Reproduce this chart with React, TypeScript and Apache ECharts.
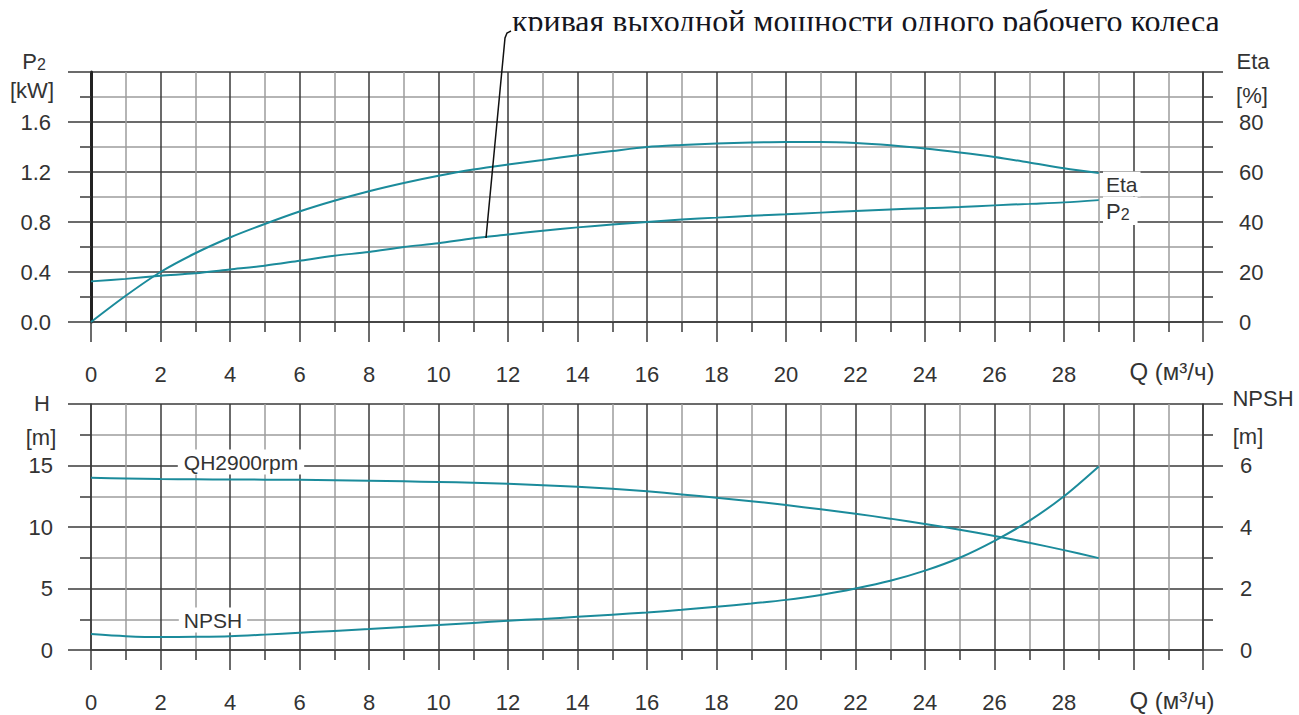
import React, { useEffect, useRef } from "react";
import * as echarts from "echarts";

// ---- data ----
const flowQ = [0, 1, 2, 3, 4, 5, 6, 7, 8, 9, 10, 11, 12, 13, 14, 15, 16, 17, 18, 19, 20, 21, 22, 23, 24, 25, 26, 27, 28, 29];
const etaPct = [0, 10.5, 20, 27.5, 33.8, 39.2, 44.2, 48.5, 52.3, 55.6, 58.5, 61, 63, 64.8, 66.7, 68.4, 70, 70.8, 71.4, 71.8, 72, 72, 71.6, 70.7, 69.4, 67.8, 66, 63.8, 61.5, 59.6];
const powerKw = [0.325, 0.345, 0.37, 0.39, 0.42, 0.45, 0.49, 0.53, 0.56, 0.6, 0.63, 0.67, 0.7, 0.73, 0.757, 0.78, 0.8, 0.82, 0.835, 0.85, 0.862, 0.875, 0.888, 0.9, 0.91, 0.92, 0.933, 0.945, 0.957, 0.975];
const headM = [14, 13.95, 13.9, 13.88, 13.86, 13.85, 13.84, 13.8, 13.76, 13.71, 13.66, 13.6, 13.52, 13.4, 13.27, 13.1, 12.9, 12.65, 12.38, 12.1, 11.78, 11.44, 11.08, 10.68, 10.24, 9.78, 9.27, 8.72, 8.12, 7.47];
const npshM = [0.52, 0.45, 0.42, 0.43, 0.45, 0.5, 0.56, 0.62, 0.68, 0.75, 0.81, 0.88, 0.95, 1.01, 1.08, 1.15, 1.22, 1.31, 1.41, 1.51, 1.63, 1.79, 2.0, 2.25, 2.58, 3.0, 3.55, 4.2, 5.0, 5.97];
const lastQLabel = 28;
const annotationText = "кривая выходной мощности одного рабочего колеса";
const qAxisTitle = "Q (м³/ч)";

const TEAL = "#1b8b9b";
const DARK = "#3a3a3a";
const GRAY = "#9c9c9c";
const TXT = "#333";
const FONT = "'Liberation Sans', Arial, Helvetica, sans-serif";

function xAxisCfg(gridIndex: number) {
  return {
    type: "value",
    gridIndex,
    min: 0,
    max: 32,
    interval: 2,
    axisLine: { show: true, onZero: false, lineStyle: { color: DARK, width: 1.5 } },
    axisTick: { show: true, length: 20, lineStyle: { color: DARK, width: 1.5 } },
    minorTick: { show: true, splitNumber: 2, length: 10, lineStyle: { color: DARK, width: 1.5 } },
    splitLine: { show: true, lineStyle: { color: DARK, width: 1.5 } },
    minorSplitLine: { show: true, lineStyle: { color: GRAY, width: 1.5 } },
    axisLabel: {
      margin: 41,
      fontSize: 22,
      color: TXT,
      fontFamily: FONT,
      formatter: (v: number) => (v <= lastQLabel ? String(v) : ""),
    },
  };
}

function yAxisCfg(
  gridIndex: number,
  position: string,
  max: number,
  interval: number,
  margin: number,
  fmt: (v: number) => string,
  split: boolean,
  lineWidth: number
) {
  return {
    type: "value",
    gridIndex,
    position,
    min: 0,
    max,
    interval,
    axisLine: { show: true, lineStyle: { color: lineWidth > 2 ? "#222" : DARK, width: lineWidth } },
    axisTick: { show: true, length: position === "left" ? 23 : 20, lineStyle: { color: DARK, width: 1.5 } },
    minorTick: { show: true, splitNumber: 2, length: position === "left" ? 11 : 10, lineStyle: { color: DARK, width: 1.5 } },
    splitLine: { show: split, lineStyle: { color: DARK, width: 1.5 } },
    minorSplitLine: { show: split, lineStyle: { color: GRAY, width: 1.5 } },
    axisLabel: {
      margin,
      fontSize: 22,
      color: TXT,
      fontFamily: FONT,
      formatter: (v: number) => (v >= max - 1e-9 ? "" : fmt(v)),
    },
  };
}

function txt(text: string, x: number, y: number, align = "center", extra: any = {}) {
  return {
    type: "text",
    z: 100,
    style: {
      text,
      x,
      y,
      font: `22px ${FONT}`,
      fill: TXT,
      align,
      textAlign: align,
      verticalAlign: "middle",
      textVerticalAlign: "middle",
      ...extra,
    },
  };
}

function sub(main: string, s: string, x: number, y: number, align = "center", extra: any = {}) {
  return {
    type: "text",
    z: 100,
    style: {
      text: `{a|${main}}{b|${s}}`,
      x,
      y,
      fill: TXT,
      align,
      textAlign: align,
      verticalAlign: "middle",
      textVerticalAlign: "middle",
      rich: {
        a: { fontSize: 22, fontFamily: FONT, fill: TXT, color: TXT },
        b: { fontSize: 16, fontFamily: FONT, fill: TXT, color: TXT, verticalAlign: "bottom" },
      },
      ...extra,
    },
  };
}

const pairs = (ys: number[]) => flowQ.map((q, i) => [q, ys[i]]);

export default function App() {
  const ref = useRef<HTMLDivElement>(null);
  useEffect(() => {
    if (!ref.current) return;
    const chart = echarts.init(ref.current, undefined, { renderer: "svg" });
    const lineStyle = { color: TEAL, width: 2 };
    const common = { type: "line", smooth: 0.3, symbol: "none", lineStyle, z: 5 };
    chart.setOption({
      animation: false,
      backgroundColor: "#fff",
      grid: [
        { left: 91, top: 72, width: 1112, height: 250 },
        { left: 91, top: 404, width: 1112, height: 246 },
      ],
      xAxis: [xAxisCfg(0), xAxisCfg(1)],
      yAxis: [
        yAxisCfg(0, "left", 2, 0.4, 40, (v) => v.toFixed(1), true, 3),
        yAxisCfg(0, "right", 100, 20, 36, (v) => String(v), false, 1.5),
        yAxisCfg(1, "left", 20, 5, 38, (v) => String(v), true, 1.5),
        yAxisCfg(1, "right", 8, 2, 37, (v) => String(v), false, 1.5),
      ],
      series: [
        { ...common, name: "Eta", xAxisIndex: 0, yAxisIndex: 1, data: pairs(etaPct) },
        { ...common, name: "P2", xAxisIndex: 0, yAxisIndex: 0, data: pairs(powerKw) },
        { ...common, name: "QH", xAxisIndex: 1, yAxisIndex: 2, data: pairs(headM) },
        { ...common, name: "NPSH", xAxisIndex: 1, yAxisIndex: 3, data: pairs(npshM) },
      ],
      graphic: [
        // annotation text (bottom clipped like the reference)
        {
          type: "text",
          z: 90,
          style: {
            text: annotationText,
            x: 512,
            y: 21,
            font: "32px 'Liberation Serif', 'Times New Roman', serif",
            fill: "#151520",
            align: "left",
            textAlign: "left",
            verticalAlign: "middle",
            textVerticalAlign: "middle",
          },
        },
        { type: "rect", z: 95, shape: { x: 495, y: 31, width: 760, height: 20 }, style: { fill: "#fff" } },
        {
          type: "polyline",
          z: 99,
          shape: { points: [[486, 238], [505, 38], [507, 33], [511, 31]] },
          style: { stroke: "#111", lineWidth: 1.5, fill: "none" },
        },
        // axis names
        sub("P", "2", 34, 61),
        txt("[kW]", 32, 90),
        txt("Eta", 1253, 61),
        txt("[%]", 1252, 95),
        txt("H", 42, 403),
        txt("[m]", 41, 437),
        txt("NPSH", 1263, 398),
        txt("[m]", 1248, 436),
        txt(qAxisTitle, 1172, 371, "center", { font: `24px ${FONT}` }),
        txt(qAxisTitle, 1172, 700, "center", { font: `24px ${FONT}` }),
        // curve labels
        txt("Eta", 1103, 184, "left", { backgroundColor: "#fff", padding: [2, 3, 2, 3], font: `21px ${FONT}` }),
        sub("P", "2", 1103, 211, "left", { backgroundColor: "#fff", padding: [3, 8, 3, 3] }),
        txt("QH2900rpm", 241, 462, "center", { backgroundColor: "#fff", padding: [2, 6, 2, 6], font: `21px ${FONT}` }),
        txt("NPSH", 213, 620, "center", { backgroundColor: "#fff", padding: [2, 5, 2, 5], font: `21px ${FONT}` }),
      ],
    });
    return () => chart.dispose();
  }, []);
  return <div ref={ref} style={{ position: "fixed", left: 0, top: 0, width: 1299, height: 715 }} />;
}
